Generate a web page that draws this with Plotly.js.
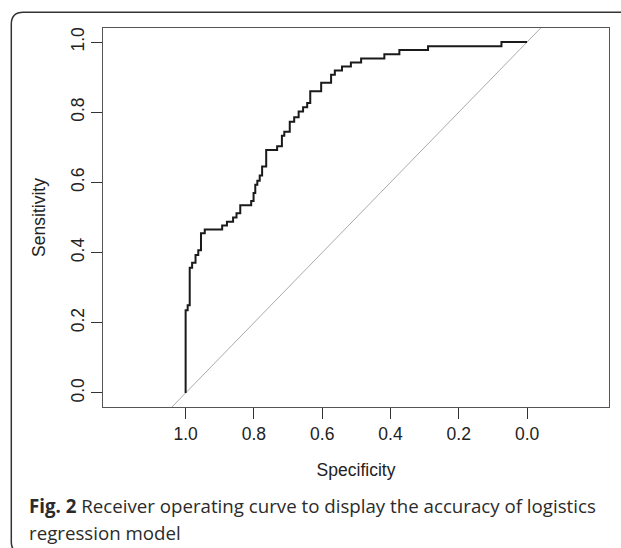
<!DOCTYPE html>
<html>
<head>
<meta charset="utf-8">
<script src="https://cdn.plot.ly/plotly-3.0.1.min.js"></script>
<style>
html,body{margin:0;padding:0;background:#fff;}
#chart{width:621px;height:548px;}
</style>
</head>
<body>
<div id="chart"></div>
<script>
// ROC curve vertices (specificity, sensitivity), step shape 'hv'
const specificity = [1.000, 1.000, 0.994, 0.988, 0.981, 0.971, 0.963, 0.955, 0.944, 0.893, 0.879, 0.861, 0.851, 0.840, 0.808, 0.801, 0.796, 0.790, 0.783, 0.776, 0.764, 0.732, 0.718, 0.711, 0.695, 0.682, 0.669, 0.656, 0.644, 0.635, 0.603, 0.574, 0.563, 0.542, 0.516, 0.486, 0.418, 0.374, 0.290, 0.075, 0.000];
const sensitivity = [0.000, 0.236, 0.250, 0.357, 0.371, 0.393, 0.407, 0.455, 0.466, 0.477, 0.488, 0.500, 0.512, 0.535, 0.547, 0.570, 0.593, 0.605, 0.620, 0.645, 0.692, 0.703, 0.733, 0.744, 0.773, 0.786, 0.802, 0.814, 0.826, 0.860, 0.884, 0.907, 0.919, 0.930, 0.942, 0.953, 0.965, 0.977, 0.988, 1.000, 1.000];
// chance (identity) line endpoints
const chanceSpec = [1.1, -0.1];
const chanceSens = [-0.1, 1.1];
const tickValues = [0, 0.2, 0.4, 0.6, 0.8, 1.0];
const tickLabels = ["0.0", "0.2", "0.4", "0.6", "0.8", "1.0"];
const xTitle = "Specificity";
const yTitle = "Sensitivity";
const captionBold = "Fig. 2";
const captionLine1 = " Receiver operating curve to display the accuracy of logistics";
const captionLine2 = "regression model";

const W = 621, H = 548;
const M = {l: 102.7, r: 12.3, t: 27.7, b: 141.3};
const PW = W - M.l - M.r, PH = H - M.t - M.b;
const px2x = p => (p - M.l) / PW;
const px2y = p => (H - M.b - p) / PH;

// outer rounded frame (pixel coords converted to paper)
function framePath() {
  const pts = [
    ['M', 640, 12], ['L', 23, 12], ['Q', 11, 12, 11, 24], ['L', 11, 542], ['Q', 11, 552, 21, 552], ['L', 640, 552]
  ];
  return pts.map(c => {
    const cmd = c[0];
    const nums = c.slice(1);
    const out = [];
    for (let i = 0; i < nums.length; i += 2) out.push(px2x(nums[i]).toFixed(5) + ',' + px2y(nums[i+1]).toFixed(5));
    return cmd + out.join(' ');
  }).join(' ');
}

const axisFont = {family: "Liberation Sans, Arial, sans-serif", size: 17.5, color: "#222"};
const capFont = {family: "Open Sans, sans-serif", size: 18.7, color: '#2b2b2b'};

const data = [
  {
    x: chanceSpec, y: chanceSens, mode: 'lines', type: 'scatter',
    line: {color: '#aaaaaa', width: 1}, hoverinfo: 'skip', showlegend: false
  },
  {
    x: specificity, y: sensitivity, mode: 'lines', type: 'scatter',
    line: {color: '#1a1a1a', width: 2, shape: 'hv'}, showlegend: false
  }
];

const layout = {
  width: W, height: H,
  margin: M,
  paper_bgcolor: '#fff', plot_bgcolor: '#fff',
  showlegend: false,
  xaxis: {
    range: [1.242, -0.240], autorange: false,
    tickvals: tickValues, ticktext: tickLabels,
    ticks: 'outside', ticklen: 11, tickwidth: 1, tickcolor: '#333',
    showline: true, mirror: true, linecolor: '#555', linewidth: 1,
    showgrid: false, zeroline: false,
    tickfont: axisFont,
    title: {text: xTitle, font: axisFont, standoff: 20}
  },
  yaxis: {
    range: [-0.04, 1.04], autorange: false,
    tickvals: tickValues, ticktext: tickLabels, tickangle: -90,
    ticks: 'outside', ticklen: 11, tickwidth: 1, tickcolor: '#333',
    showline: true, mirror: true, linecolor: '#555', linewidth: 1,
    showgrid: false, zeroline: false,
    tickfont: axisFont,
    title: {text: yTitle, font: axisFont, standoff: 17}
  },
  shapes: [
    {type: 'path', xref: 'paper', yref: 'paper', path: framePath(), line: {color: '#333', width: 1.5}}
  ],
  annotations: [
    {
      xref: 'paper', yref: 'paper', x: px2x(27), y: px2y(505), xanchor: 'left', yanchor: 'middle',
      showarrow: false, align: 'left',
      text: '<b>' + captionBold + '</b>' + captionLine1,
      font: capFont
    },
    {
      xref: 'paper', yref: 'paper', x: px2x(27), y: px2y(532), xanchor: 'left', yanchor: 'middle',
      showarrow: false, align: 'left',
      text: captionLine2,
      font: capFont
    }
  ]
};

Plotly.newPlot('chart', data, layout, {displayModeBar: false, staticPlot: true});
</script>
</body>
</html>
